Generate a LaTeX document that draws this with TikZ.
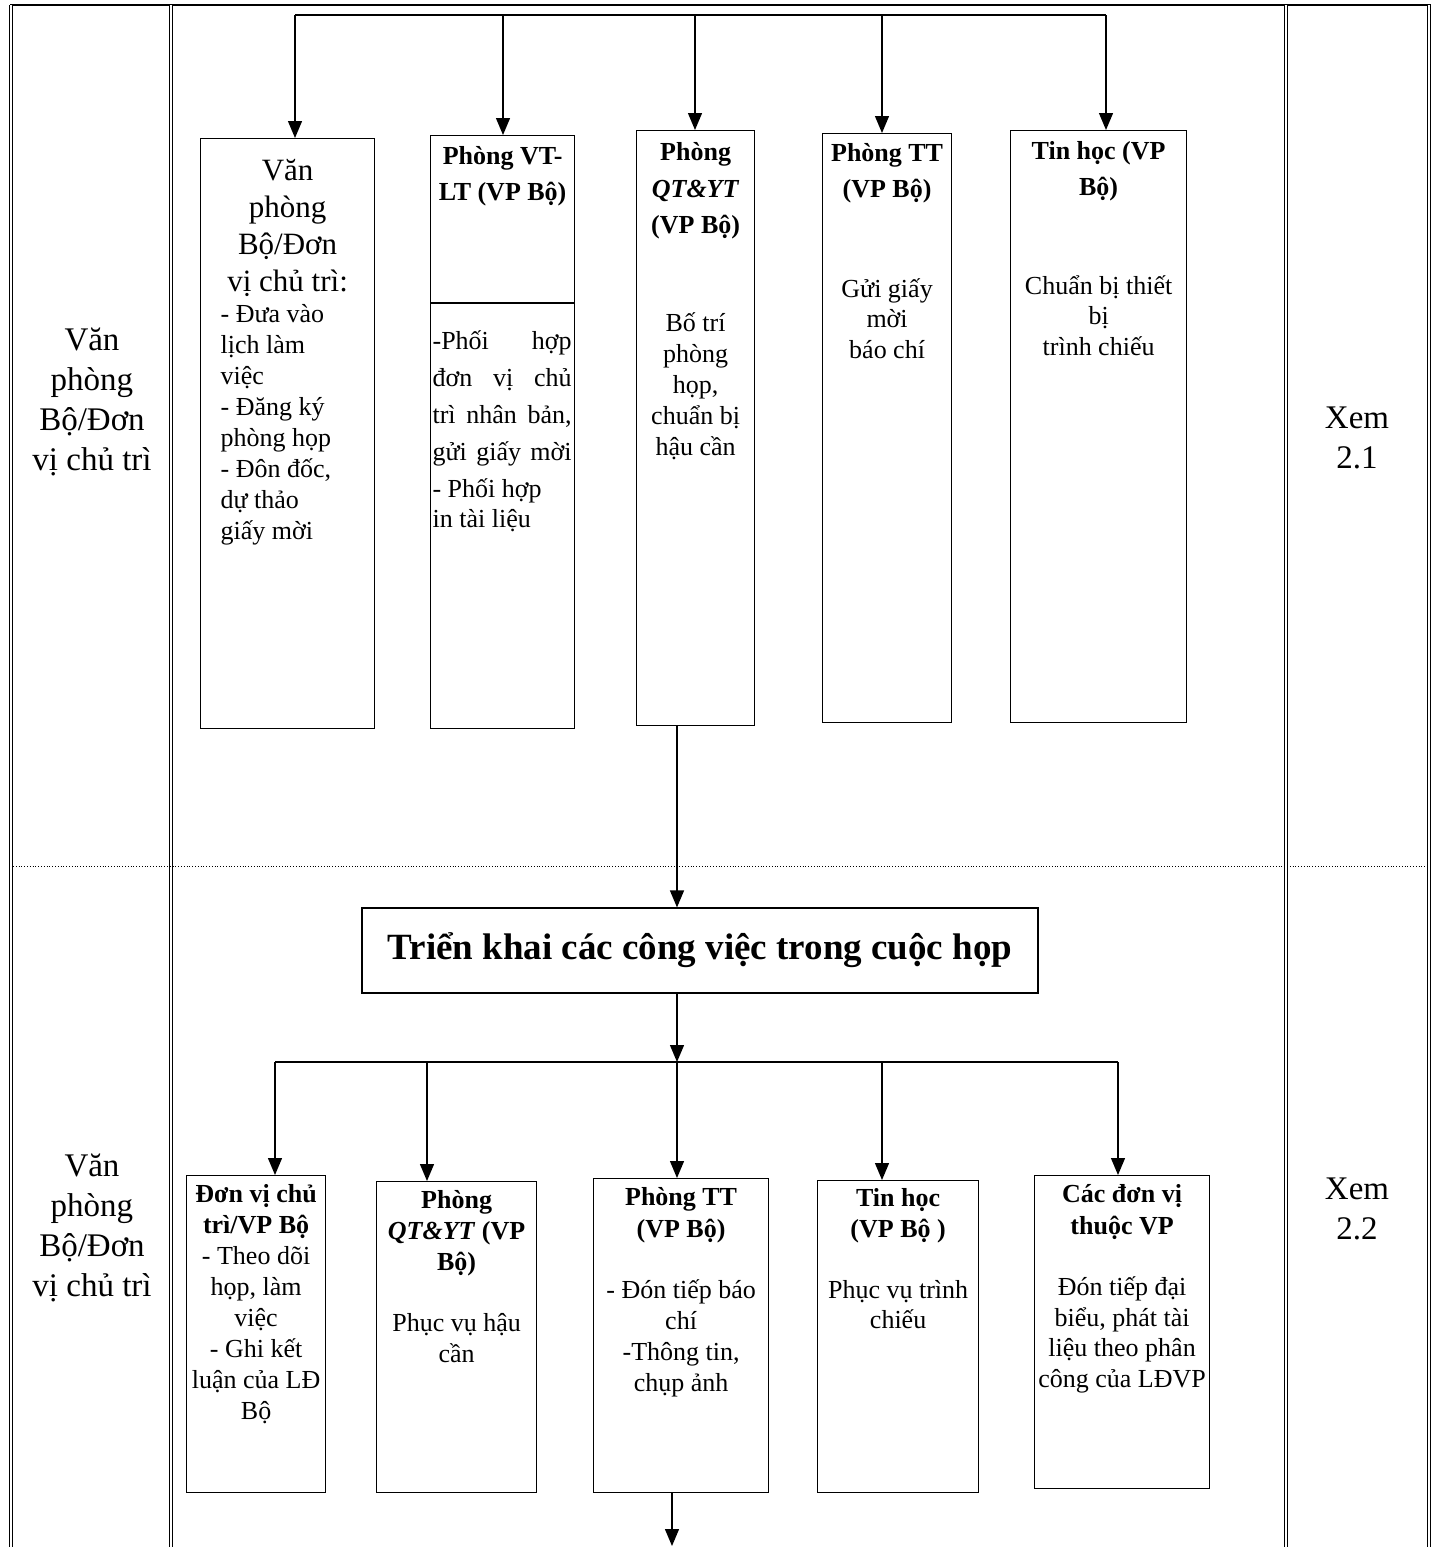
\documentclass[tikz,border=0pt]{standalone}
\usepackage{fontspec}
\setmainfont{Liberation Serif}
\usetikzlibrary{arrows.meta}
\newcommand\bx[3]{\parbox[c][#2][t]{#1}{#3}}
\newcommand\fs[2]{\fontsize{#1}{#2}\selectfont}
\begin{document}
\begin{tikzpicture}[x=1pt,y=-1pt,
  box/.style={draw, line width=1.2pt, inner sep=0pt, anchor=north west},
  arr/.style={line width=1.3pt, -{Triangle[length=17pt,width=14pt]}},
  ln/.style={line width=1.3pt},
  frameline/.style={double, line width=0.7pt, double distance=2pt},
  lab/.style={align=center, font=\fs{33}{40}, inner sep=0pt}]
\useasboundingbox (0,0) rectangle (1437,1547);
\fill[white] (0,0) rectangle (1437,1547);

% frame
\draw[line width=1.4pt] (10,5) -- (1431,5);
\foreach \xx in {11,171,1286,1429} \draw[frameline] (\xx,5) -- (\xx,1547);
\draw[dotted, line width=0.8pt] (13,866) -- (1428,866);

% side labels
\node[lab] (lab1) at (92,402) {Văn\\ phòng\\ Bộ/Đơn\\ vị chủ trì};
\node[lab] (lab2) at (92,1228) {Văn\\ phòng\\ Bộ/Đơn\\ vị chủ trì};
\node[lab] (xem1) at (1357,438) {Xem\\ 2.1};
\node[lab] (xem2) at (1357,1209) {Xem\\ 2.2};

% top row boxes
\node[box] (vp) at (200,138) {\bx{174pt}{590pt}{\centering\fs{31}{37}\rule{0pt}{42pt}Văn\\ phòng\\ Bộ/Đơn\\ vị chủ trì:\par
  \raggedright\leftskip=20pt \fs{26}{31}- Đưa vào\\ lịch làm\\ việc\\ - Đăng ký\\ phòng họp\\ - Đôn đốc,\\ dự thảo\\ giấy mời\par}};

\node[box] (vt) at (430,135) {\bx{144pt}{593pt}{\centering\bfseries\fs{26}{36}\rule{0pt}{29pt}Phòng VT-\\ LT (VP Bộ)\par
  \vspace{112pt}\raggedright\mdseries\fs{26}{37}%
  \hspace*{2pt}\makebox[139pt][s]{-Phối hợp}\\
  \hspace*{2pt}\makebox[139pt][s]{đơn vị chủ}\\
  \hspace*{2pt}\makebox[139pt][s]{trì nhân bản,}\\
  \hspace*{2pt}\makebox[139pt][s]{gửi giấy mời}\\
  \hspace*{2pt}- Phối hợp\\[-7pt]
  \hspace*{2pt}in tài liệu\par}};
\draw[line width=1.2pt] (vt.west |- 0,303) -- (vt.east |- 0,303);

\node[box] (qt) at (636,130) {\bx{118pt}{595pt}{\centering\bfseries\fs{26}{36.5}\rule{0pt}{30pt}Phòng\\ \textit{QT\&YT}\\ (VP Bộ)\par
  \vspace{67pt}\mdseries\fs{26}{31}Bố trí\\ phòng\\ họp,\\ chuẩn bị\\ hậu cần\par}};

\node[box] (tt) at (822,133) {\bx{129pt}{589pt}{\centering\bfseries\fs{26}{36}\rule{0pt}{28pt}Phòng TT\\ (VP Bộ)\par
  \vspace{69pt}\mdseries\fs{26}{30.5}Gửi giấy\\ mời\\ báo chí\par}};

\node[box] (th) at (1010,130) {\bx{176pt}{592pt}{\centering\bfseries\fs{26}{36}\rule{0pt}{29pt}Tin học (VP\\ Bộ)\par
  \vspace{68pt}\mdseries\fs{26}{30.5}Chuẩn bị thiết\\ bị\\ trình chiếu\par}};

% top connectors
\coordinate (t1) at (295,15);
\coordinate (t2) at (503,15);
\coordinate (t3) at (695,15);
\coordinate (t4) at (882,15);
\coordinate (t5) at (1106,15);
\draw[ln] (t1) -- (t5);
\draw[arr] (t1) -- (t1 |- vp.north);
\draw[arr] (t2) -- (t2 |- vt.north);
\draw[arr] (t3) -- (t3 |- qt.north);
\draw[arr] (t4) -- (t4 |- tt.north);
\draw[arr] (t5) -- (t5 |- th.north);

% middle box
\node[draw, line width=1.2pt, minimum width=676pt, minimum height=85pt, inner sep=0pt,
  font=\bfseries\fs{37}{44}] (tk) at (700,950.5) {Triển khai các công việc trong cuộc họp};

\coordinate (mx) at (677,0);
\draw[arr] (qt.south -| mx) -- (tk.north -| mx);
\coordinate (j) at (677,1062);
\draw[arr] (tk.south -| mx) -- (j);

% bottom boxes
\node[box] (d1) at (186,1175) {\bx{139pt}{317pt}{\centering\bfseries\fs{26}{31}\rule{0pt}{27pt}Đơn vị chủ\\ trì/VP Bộ\par
  \mdseries - Theo dõi\\ họp, làm\\ việc\\ - Ghi kết\\ luận của LĐ\\ Bộ\par}};
\node[box] (d2) at (376,1181) {\bx{160pt}{311pt}{\centering\bfseries\fs{26}{31}\rule{0pt}{27pt}Phòng\\ \textit{QT\&YT} (VP\\ Bộ)\par
  \vspace{30pt}\mdseries Phục vụ hậu\\ cần\par}};
\node[box] (d3) at (593,1178) {\bx{175pt}{314pt}{\centering\bfseries\fs{26}{32}\rule{0pt}{27pt}Phòng TT\\ (VP Bộ)\par
  \vspace{30pt}\mdseries\fs{26}{31}- Đón tiếp báo\\ chí\\ -Thông tin,\\ chụp ảnh\par}};
\node[box] (d4) at (817,1180) {\bx{161pt}{312pt}{\centering\bfseries\fs{26}{31}\rule{0pt}{26pt}Tin học\\ (VP Bộ )\par
  \vspace{31pt}\mdseries\fs{26}{30}Phục vụ trình\\ chiếu\par}};
\node[box] (d5) at (1034,1175) {\bx{175pt}{313pt}{\centering\bfseries\fs{26}{32}\rule{0pt}{27pt}Các đơn vị\\ thuộc VP\par
  \vspace{30pt}\mdseries\fs{26}{30.7}Đón tiếp đại\\ biểu, phát tài\\ liệu theo phân\\ công của LĐVP\par}};

% bottom connectors
\coordinate (b1) at (275,1062);
\coordinate (b2) at (427,1062);
\coordinate (b3) at (677,1062);
\coordinate (b4) at (882,1062);
\coordinate (b5) at (1118,1062);
\draw[ln] (b1) -- (b5);
\draw[arr] (b1) -- (b1 |- d1.north);
\draw[arr] (b2) -- (b2 |- d2.north);
\draw[arr] (b3) -- (b3 |- d3.north);
\draw[arr] (b4) -- (b4 |- d4.north);
\draw[arr] (b5) -- (b5 |- d5.north);

\coordinate (endp) at (672,1546);
\draw[arr] (d3.south -| endp) -- (endp);
\end{tikzpicture}
\end{document}
